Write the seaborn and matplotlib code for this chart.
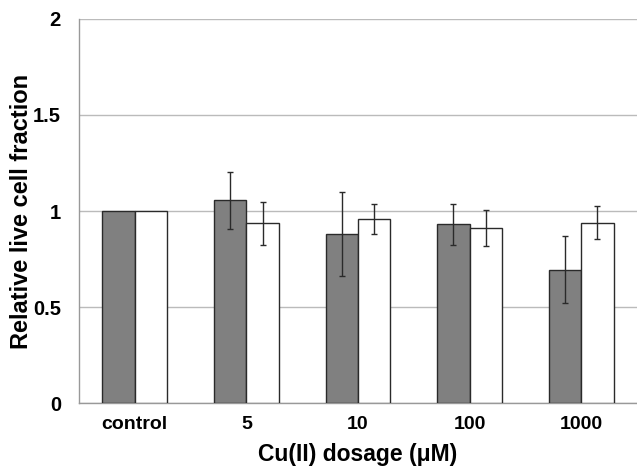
import numpy as np
import pandas as pd
import matplotlib
matplotlib.use("Agg")
import matplotlib.pyplot as plt
import seaborn as sns

# values
dosage = ["control", "5", "10", "100", "1000"]
dark_vals = [1.0, 1.055, 0.88, 0.93, 0.695]
dark_err = [0.0, 0.15, 0.22, 0.105, 0.175]
white_vals = [1.0, 0.935, 0.958, 0.912, 0.94]
white_err = [0.0, 0.11, 0.08, 0.092, 0.088]

df = pd.DataFrame({
    "dosage": dosage * 2,
    "series": ["a"] * 5 + ["b"] * 5,
    "val": dark_vals + white_vals,
})

sns.set_theme(style="white", rc={"text.color": "black",
                                 "xtick.labelcolor": "black",
                                 "ytick.labelcolor": "black",
                                 "axes.labelcolor": "black"})
plt.rcParams["font.family"] = ["Liberation Sans", "DejaVu Sans"]

fig = plt.figure(figsize=(6.37, 4.69), dpi=100)
ax = fig.add_axes([0.124, 0.1407, 0.876, 0.8188])

sns.barplot(data=df, x="dosage", y="val", hue="series", order=dosage,
            palette={"a": "#808080", "b": "#ffffff"}, width=0.58,
            edgecolor="#2a2a2a", linewidth=1.0, errorbar=None,
            legend=False, ax=ax, zorder=3)

errs = dark_err + white_err
vals = dark_vals + white_vals
for p, v, e in zip(ax.patches, vals, errs):
    if e > 0:
        cx = p.get_x() + p.get_width() / 2
        ax.errorbar(cx, v, yerr=e, fmt="none", ecolor="#2a2a2a",
                    elinewidth=1.0, capsize=2.5, capthick=1.0, zorder=4)

ax.set_ylim(0, 2)
ax.set_xlim(-0.5, 4.5)
ax.set_yticks([0, 0.5, 1, 1.5, 2])
ax.set_yticklabels(["0", "0.5", "1", "1.5", "2"], fontweight="bold", fontsize=14.5)
ax.set_xticks(range(5))
ax.set_xticklabels(dosage, fontweight="bold", fontsize=14)
ax.set_xticks(np.arange(-0.5, 4.6, 1), minor=True)
ax.tick_params(axis="x", which="major", length=0, pad=9, labelcolor="black")
ax.tick_params(axis="x", which="minor", length=4, color="#999999", direction="out")
ax.tick_params(axis="y", length=3, color="#999999", direction="out", pad=10,
               labelcolor="black")
ax.yaxis.grid(True, color="#bbbbbb", linewidth=1.0, zorder=0)
ax.set_axisbelow(True)

for s in ["top", "right"]:
    ax.spines[s].set_visible(False)
for s in ["left", "bottom"]:
    ax.spines[s].set_color("#999999")
    ax.spines[s].set_linewidth(1.0)

ax.set_ylabel("Relative live cell fraction", fontweight="bold", fontsize=17, color="black")
ax.set_xlabel("Cu(II) dosage (\u03bcM)", fontweight="bold", fontsize=16.5, color="black")
ax.yaxis.set_label_coords(-0.082, 0.5)
ax.xaxis.set_label_coords(0.5, -0.105)

fig.savefig("out.png", dpi=100)
